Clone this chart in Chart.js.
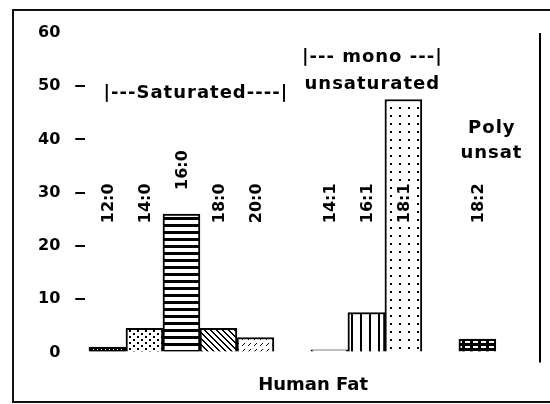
<!DOCTYPE html>
<html>
<head>
<meta charset="utf-8">
<script src="https://cdn.jsdelivr.net/npm/chart.js@4/dist/chart.umd.min.js"></script>
<style>
  html, body { margin: 0; padding: 0; background: #fff; }
  #frame { position: absolute; left: 12px; top: 9px; width: 600px; height: 390px; border: 2px solid #111; }
  #fat { position: absolute; left: 0; top: 0; }
</style>
</head>
<body>
<div id="frame"></div>
<canvas id="fat" width="550" height="404"></canvas>
<script>
// fatty acids of human fat, % of total
// blank names are empty slots between the groups
const acids = ['12:0', '14:0', '16:0', '18:0', '20:0', '', '14:1', '16:1', '18:1', '', '18:2'];
const percent = [1, 4.5, 26, 4.5, 2.8, null, 0.5, 7.5, 47.5, null, 2.5];
const yTicks = [0, 10, 20, 30, 40, 50, 60];
const groupNotes = ['|---Saturated----|', '|--- mono ---|', 'unsaturated', 'Poly', 'unsat'];

// where the group notes sit (x in slots, y in percent)
const noteSpots = [[2.39, 48.7], [7.16, 55.5], [7.16, 50.4], [10.39, 42], [10.38, 37.4]];
const labelLevel = 28;

function tile(w, h, draw) {
  const c = document.createElement('canvas');
  c.width = w; c.height = h;
  const g = c.getContext('2d');
  g.fillStyle = '#fff'; g.fillRect(0, 0, w, h);
  g.fillStyle = '#000';
  draw(g);
  return g.createPattern(c, 'repeat');
}

const fills = {
  '12:0': tile(4, 3, g => { g.fillRect(0, 0, 4, 3); g.fillStyle = '#fff'; g.fillRect(1, 1, 1, 1); }),
  '14:0': tile(8, 6, g => { g.fillRect(1, 0, 2, 2); g.fillRect(5, 3, 2, 2); }),
  '16:0': tile(4, 7, g => { g.fillRect(0, 0, 4, 3); }),
  '18:0': tile(6, 6, g => { for (let i = 0; i < 6; i++) { g.fillRect(i, i, 2, 1); g.fillRect(i - 6, i, 2, 1); } }),
  '20:0': tile(6, 6, g => { g.fillRect(4, 1, 1, 1); g.fillRect(3, 2, 1, 1); g.fillRect(2, 3, 1, 1); }),
  '14:1': '#fff',
  '16:1': tile(9, 1, g => { g.fillRect(0, 0, 2, 1); }),
  '18:1': tile(9, 8, g => { g.fillRect(3, 3, 2, 2); }),
  '18:2': tile(8, 5, g => { g.fillRect(0, 0, 8, 5); g.fillStyle = '#fff'; g.fillRect(1, 1, 5, 2); })
};

const shown = acids.map((a, i) => ({ x: i, y: percent[i], label: a })).filter(p => p.label !== '');

const acidLabels = {
  id: 'acidLabels',
  afterDatasetsDraw(chart) {
    const { ctx, scales: { y } } = chart;
    const meta = chart.getDatasetMeta(0);
    ctx.save();
    ctx.font = 'bold 16px "DejaVu Sans"';
    ctx.textAlign = 'center';
    ctx.textBaseline = 'middle';
    meta.data.forEach((bar, i) => {
      const name = shown[i].label;
      const half = ctx.measureText(name).width / 2 + 2;
      let cy = y.getPixelForValue(labelLevel);
      if (bar.y < cy + half && bar.y > cy - half) cy = bar.y - 22 - half;
      ctx.fillStyle = '#fff';
      ctx.fillRect(bar.x - 9, cy - half, 18, half * 2);
      ctx.save();
      ctx.translate(bar.x, cy);
      ctx.rotate(-Math.PI / 2);
      ctx.fillStyle = '#000';
      ctx.fillText(name, 0, 1);
      ctx.restore();
    });
    ctx.restore();
  }
};

const notes = {
  id: 'notes',
  afterDraw(chart) {
    const { ctx, chartArea, scales: { x, y } } = chart;
    ctx.save();
    ctx.strokeStyle = '#000';
    ctx.lineWidth = 2;
    ctx.beginPath();
    ctx.moveTo(chartArea.right - 1, chartArea.top);
    ctx.lineTo(chartArea.right - 1, chartArea.bottom + 10);
    ctx.stroke();
    ctx.font = 'bold 18px "DejaVu Sans"';
    ctx.letterSpacing = '1px';
    ctx.textAlign = 'center';
    ctx.textBaseline = 'middle';
    ctx.fillStyle = '#000';
    groupNotes.forEach((t, i) => {
      ctx.fillText(t, x.getPixelForValue(noteSpots[i][0]), y.getPixelForValue(noteSpots[i][1]));
    });
    ctx.restore();
  }
};

new Chart(document.getElementById('fat'), {
  type: 'bar',
  data: {
    datasets: [{
      data: shown,
      backgroundColor: shown.map(p => fills[p.label]),
      borderColor: '#000',
      borderWidth: 2,
      categoryPercentage: 1,
      barPercentage: 1
    }]
  },
  options: {
    responsive: false,
    animation: false,
    events: [],
    layout: { padding: { left: 23, top: 33, right: 9, bottom: 8 } },
    plugins: { legend: { display: false }, tooltip: { enabled: false } },
    scales: {
      x: {
        type: 'linear',
        offset: false,
        min: -0.6,
        max: 11.72,
        afterBuildTicks: s => { s.ticks = acids.map((a, i) => ({ value: i })); },
        ticks: { display: false },
        grid: { display: false, drawTicks: false, offset: false },
        border: { display: false },
        title: {
          display: true,
          text: 'Human Fat',
          color: '#000',
          font: { family: 'DejaVu Sans', weight: 'bold', size: 18 },
          padding: { top: 22, bottom: 0 }
        }
      },
      y: {
        min: 0,
        max: 60,
        afterBuildTicks: s => { s.ticks = yTicks.map(v => ({ value: v })); },
        ticks: {
          color: '#000',
          padding: 15,
          font: { family: 'DejaVu Sans', weight: 'bold', size: 16 }
        },
        grid: {
          drawOnChartArea: false,
          tickLength: 10,
          lineWidth: 2,
          color: c => (c.tick && (c.tick.value === 0 || c.tick.value === 60)) ? 'rgba(0,0,0,0)' : '#000'
        },
        border: { display: false }
      }
    }
  },
  plugins: [acidLabels, notes]
});
</script>
</body>
</html>
